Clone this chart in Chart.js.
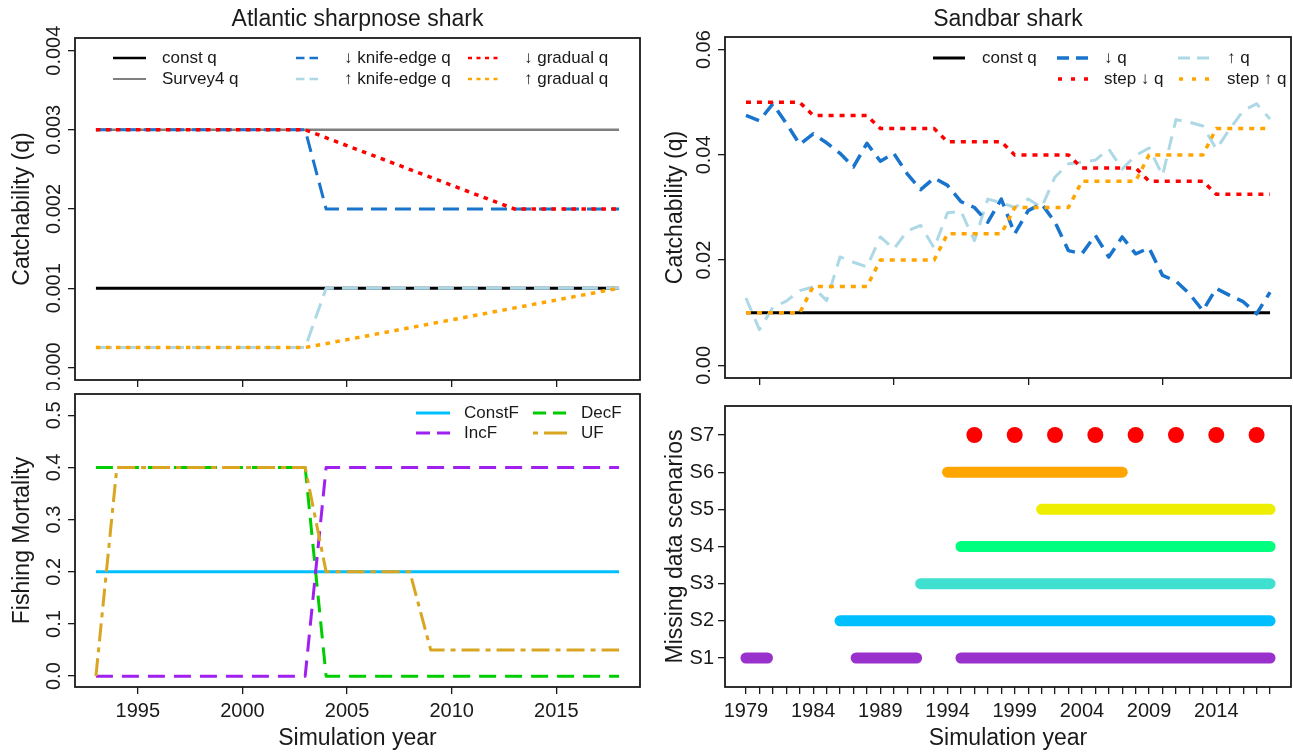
<!DOCTYPE html>
<html>
<head>
<meta charset="utf-8">
<title>Catchability and fishing mortality scenarios</title>
<script src="https://cdn.jsdelivr.net/npm/chart.js@4.4.1/dist/chart.umd.min.js"></script>
<style>
  html, body { margin: 0; padding: 0; background: #fff; }
  #wrap { position: relative; width: 1293px; height: 752px; overflow: hidden; }
  canvas { position: absolute; }
</style>
</head>
<body>
<div id="wrap">
  <canvas id="aspQ" width="646" height="390" style="left:0;top:0;width:646px;height:390px"></canvas>
  <canvas id="sbQ" width="647" height="390" style="left:646px;top:0;width:647px;height:390px"></canvas>
  <canvas id="aspF" width="646" height="362" style="left:0;top:390px;width:646px;height:362px"></canvas>
  <canvas id="sbMiss" width="647" height="362" style="left:646px;top:390px;width:647px;height:362px"></canvas>
</div>
<script>
// ======================= DATA =======================

// ---- Atlantic sharpnose shark : catchability (break points) ----
const aspYrConst = [1993, 2018];
const aspConstQ = [0.001, 0.001];
const aspSurvey4Q = [0.003, 0.003];
const aspYrKnife = [1993, 2003, 2004, 2018];
const aspKnifeDownQ = [0.003, 0.003, 0.002, 0.002];
const aspKnifeUpQ = [0.00025, 0.00025, 0.001, 0.001];
const aspYrGradDown = [1993, 2003, 2013, 2018];
const aspGradDownQ = [0.003, 0.003, 0.002, 0.002];
const aspYrGradUp = [1993, 2003, 2018];
const aspGradUpQ = [0.00025, 0.00025, 0.001];
const aspYearTicks = [1995, 2000, 2005, 2010, 2015];
const aspQTicks = [0, 0.001, 0.002, 0.003, 0.004];
const aspQLabels = ["0.000", "0.001", "0.002", "0.003", "0.004"];

// ---- Atlantic sharpnose shark : fishing mortality ----
const fYrConst = [1993, 2018];
const constF = [0.2, 0.2];
const fYrStep = [1993, 2003, 2004, 2018];
const decF = [0.4, 0.4, 0, 0];
const incF = [0, 0, 0.4, 0.4];
const fYrU = [1993, 1994, 2003, 2004, 2008, 2009, 2018];
const uF = [0, 0.4, 0.4, 0.2, 0.2, 0.05, 0.05];
const fTicks = [0, 0.1, 0.2, 0.3, 0.4, 0.5];
const fLabels = ["0.0", "0.1", "0.2", "0.3", "0.4", "0.5"];

// ---- Sandbar shark : catchability ----
const sbYears = [1979, 1980, 1981, 1982, 1983, 1984, 1985, 1986, 1987, 1988,
                 1989, 1990, 1991, 1992, 1993, 1994, 1995, 1996, 1997, 1998,
                 1999, 2000, 2001, 2002, 2003, 2004, 2005, 2006, 2007, 2008,
                 2009, 2010, 2011, 2012, 2013, 2014, 2015, 2016, 2017, 2018];
const sbDownQ = [0.0475, 0.0465, 0.0497, 0.0460, 0.0420, 0.0440, 0.0423, 0.0403, 0.0377, 0.0422,
                 0.0388, 0.0403, 0.0364, 0.0334, 0.0356, 0.0342, 0.0311, 0.0300, 0.0272, 0.0316,
                 0.0250, 0.0294, 0.0307, 0.0272, 0.0218, 0.0212, 0.0247, 0.0206, 0.0244, 0.0212,
                 0.0223, 0.0171, 0.0160, 0.0136, 0.0104, 0.0146, 0.0133, 0.0121, 0.0098, 0.0139];
const sbUpQ = [0.0128, 0.0068, 0.0110, 0.0122, 0.0142, 0.0149, 0.0123, 0.0206, 0.0196, 0.0187,
               0.0244, 0.0221, 0.0255, 0.0266, 0.0223, 0.0290, 0.0293, 0.0237, 0.0316, 0.0309,
               0.0300, 0.0316, 0.0300, 0.0358, 0.0383, 0.0386, 0.0390, 0.0411, 0.0373, 0.0399,
               0.0413, 0.0361, 0.0467, 0.0462, 0.0455, 0.0411, 0.0449, 0.0484, 0.0497, 0.0468];
const sbYrConst = [1979, 2018];
const sbConstQ = [0.01, 0.01];
const sbYrStep = [1979, 1983, 1984, 1988, 1989, 1993, 1994, 1998,
                  1999, 2003, 2004, 2008, 2009, 2013, 2014, 2018];
const sbStepDownQ = [0.05, 0.05, 0.0475, 0.0475, 0.045, 0.045, 0.0425, 0.0425,
                     0.04, 0.04, 0.0375, 0.0375, 0.035, 0.035, 0.0325, 0.0325];
const sbStepUpQ = [0.01, 0.01, 0.015, 0.015, 0.02, 0.02, 0.025, 0.025,
                   0.03, 0.03, 0.035, 0.035, 0.04, 0.04, 0.045, 0.045];
const sbDecadeTicks = [1980, 1990, 2000, 2010];
const sbQTicks = [0, 0.02, 0.04, 0.06];
const sbQLabels = ["0.00", "0.02", "0.04", "0.06"];

// ---- Sandbar shark : missing data scenarios (years with data) ----
const s1Spans = [[1979, 1980.6], [1987.2, 1991.7], [1995, 2018]];
const s2Spans = [[1986, 2018]];
const s3Spans = [[1992, 2018]];
const s4Spans = [[1995, 2018]];
const s5Spans = [[2001, 2018]];
const s6Spans = [[1994, 2007]];
const s7Years = [1996, 1999, 2002, 2005, 2008, 2011, 2014, 2017];
const scenarioRows = [1, 2, 3, 4, 5, 6, 7];
const sbYearLabels = [1979, 1984, 1989, 1994, 1999, 2004, 2009, 2014];

// ======================= STYLE =======================
const FONT = "'Liberation Sans', Arial, Helvetica, sans-serif";
const INK = "#1a1a1a";

const st = {
    constQ:   { color: "#000000", width: 3,   dash: [] },
    survey4:  { color: "#7f7f7f", width: 2.5, dash: [] },
    knifeDn:  { color: "#1874CD", width: 3,   dash: [16, 8] },
    knifeUp:  { color: "#ADD8E6", width: 3,   dash: [16, 8] },
    gradDn:   { color: "#FF0000", width: 3.5, dash: [4.5, 5.5] },
    gradUp:   { color: "#FFA500", width: 3.5, dash: [4.5, 5.5] },
    sbDn:     { color: "#1874CD", width: 3.5, dash: [14, 8] },
    sbUp:     { color: "#ADD8E6", width: 3,   dash: [14, 9] },
    stepDn:   { color: "#FF0000", width: 3.5, dash: [5, 6] },
    stepUp:   { color: "#FFA500", width: 3.5, dash: [5, 6] },
    constF:   { color: "#00BFFF", width: 3,   dash: [] },
    decF:     { color: "#00CD00", width: 3,   dash: [17, 9] },
    incF:     { color: "#A020F0", width: 3,   dash: [17, 9] },
    uF:       { color: "#DAA520", width: 3,   dash: [18, 6, 5, 6] }
};

// ======================= HELPERS =======================
function pts(xs, ys) {
    return xs.map((x, i) => ({ x: x, y: ys[i] }));
}

function spanPts(spans, row) {
    const out = [];
    spans.forEach((s, i) => {
        if (i > 0) out.push({ x: (spans[i - 1][1] + s[0]) / 2, y: null });
        out.push({ x: s[0], y: row }, { x: s[1], y: row });
    });
    return out;
}

// z: larger = drawn on top
function line(label, data, s, z) {
    return {
        label: label,
        data: data,
        borderColor: s.color,
        borderWidth: s.width,
        borderDash: s.dash,
        borderJoinStyle: "round",
        pointRadius: 0,
        tension: 0,
        fill: false,
        order: 20 - z
    };
}

function bar(data, color) {
    return {
        data: data,
        borderColor: color,
        borderWidth: 11,
        borderCapStyle: "round",
        pointRadius: 0,
        tension: 0,
        fill: false,
        spanGaps: false
    };
}

function xScale(min, max, ticks, bottomH, labelFn) {
    return {
        type: "linear",
        min: min,
        max: max,
        afterBuildTicks: s => { s.ticks = ticks.map(v => ({ value: v })); },
        afterFit: s => { s.height = bottomH; },
        border: { display: false },
        grid: { display: true, drawOnChartArea: false, drawTicks: true, tickLength: 7, color: INK, tickColor: INK, lineWidth: 1.3 },
        ticks: {
            display: !!labelFn,
            autoSkip: false,
            maxRotation: 0,
            minRotation: 0,
            padding: 5,
            color: INK,
            font: { family: FONT, size: 20 },
            callback: labelFn || (() => "")
        }
    };
}

function yScale(min, max, ticks, leftW, labelFn) {
    return {
        type: "linear",
        min: min,
        max: max,
        afterBuildTicks: s => { s.ticks = ticks.map(v => ({ value: v })); },
        afterFit: s => { s.width = leftW; },
        border: { display: false },
        grid: { display: true, drawOnChartArea: false, drawTicks: true, tickLength: 7, color: INK, tickColor: INK, lineWidth: 1.3 },
        ticks: {
            display: !!labelFn,
            autoSkip: false,
            padding: 4,
            color: INK,
            font: { family: FONT, size: 20 },
            callback: labelFn || (() => "")
        }
    };
}

// box, rotated tick labels, titles, legend
function decor(cfg) {
    return {
        id: "decor",
        afterDraw(chart) {
            const ctx = chart.ctx;
            const a = chart.chartArea;
            ctx.save();
            ctx.strokeStyle = INK;
            ctx.lineWidth = 1.8;
            ctx.setLineDash([]);
            ctx.strokeRect(a.left, a.top, a.right - a.left, a.bottom - a.top);

            ctx.fillStyle = INK;
            ctx.textBaseline = "middle";

            if (cfg.yVals) {
                ctx.font = "20px " + FONT;
                ctx.textAlign = "center";
                cfg.yVals.forEach((v, i) => {
                    const py = chart.scales.y.getPixelForValue(v);
                    ctx.save();
                    ctx.translate(a.left - 21, py);
                    ctx.rotate(-Math.PI / 2);
                    ctx.fillText(cfg.yText[i], 0, 0);
                    ctx.restore();
                });
            }

            ctx.font = "23px " + FONT;
            ctx.textAlign = "center";
            if (cfg.title) ctx.fillText(cfg.title, (a.left + a.right) / 2, 20);
            if (cfg.xTitle) ctx.fillText(cfg.xTitle, (a.left + a.right) / 2, cfg.xTitleY);
            if (cfg.yTitle) {
                ctx.save();
                ctx.translate(cfg.yTitleX, (a.top + a.bottom) / 2);
                ctx.rotate(-Math.PI / 2);
                ctx.fillText(cfg.yTitle, 0, 0);
                ctx.restore();
            }

            // legend: sample segments use their own (shorter) dash
            ctx.font = "17px " + FONT;
            ctx.textAlign = "left";
            (cfg.legend || []).forEach(it => {
                ctx.save();
                ctx.strokeStyle = it.s.color;
                ctx.lineWidth = it.lw || it.s.width;
                ctx.setLineDash(it.dash || it.s.dash);
                ctx.beginPath();
                ctx.moveTo(it.x0, it.y);
                ctx.lineTo(it.x1, it.y);
                ctx.stroke();
                ctx.restore();
                ctx.fillText(it.text, it.tx, it.y);
            });
            ctx.restore();
        }
    };
}

function baseOptions(padTop, padRight, scales) {
    return {
        responsive: false,
        animation: false,
        events: [],
        layout: { padding: { top: padTop, right: padRight, left: 0, bottom: 0 }, autoPadding: false },
        plugins: { legend: { display: false }, title: { display: false }, tooltip: { enabled: false } },
        scales: scales
    };
}

// ======================= TOP LEFT: ASP CATCHABILITY =======================
new Chart(document.getElementById("aspQ"), {
    type: "line",
    data: {
        datasets: [
            line("Survey4 q", pts(aspYrConst, aspSurvey4Q), st.survey4, 1),
            line("const q", pts(aspYrConst, aspConstQ), st.constQ, 2),
            line("↑ knife-edge q", pts(aspYrKnife, aspKnifeUpQ), st.knifeUp, 3),
            line("↓ knife-edge q", pts(aspYrKnife, aspKnifeDownQ), st.knifeDn, 4),
            line("↓ gradual q", pts(aspYrGradDown, aspGradDownQ), st.gradDn, 5),
            line("↑ gradual q", pts(aspYrGradUp, aspGradUpQ), st.gradUp, 6)
        ]
    },
    options: baseOptions(38, 6, {
        x: xScale(1992, 2019, aspYearTicks, 10, null),
        y: yScale(-0.00016, 0.00416, aspQTicks, 75, null)
    }),
    plugins: [decor({
        title: "Atlantic sharpnose shark",
        yTitle: "Catchability (q)", yTitleX: 23,
        yVals: aspQTicks, yText: aspQLabels,
        legend: [
            { text: "const q", s: st.constQ, lw: 2.5, x0: 113, x1: 146, tx: 162, y: 58 },
            { text: "Survey4 q", s: st.survey4, lw: 2, x0: 113, x1: 146, tx: 162, y: 79 },
            { text: "↓ knife-edge q", s: st.knifeDn, lw: 2.5, dash: [8.5, 5], x0: 296, x1: 318, tx: 344, y: 58 },
            { text: "↑ knife-edge q", s: st.knifeUp, lw: 2.5, dash: [8.5, 5], x0: 296, x1: 318, tx: 344, y: 79 },
            { text: "↓ gradual q", s: st.gradDn, lw: 2.5, dash: [4, 4.5], x0: 468, x1: 500, tx: 524, y: 58 },
            { text: "↑ gradual q", s: st.gradUp, lw: 2.5, dash: [4, 4.5], x0: 468, x1: 500, tx: 524, y: 79 }
        ]
    })]
});

// ======================= TOP RIGHT: SANDBAR CATCHABILITY =======================
new Chart(document.getElementById("sbQ"), {
    type: "line",
    data: {
        datasets: [
            line("const q", pts(sbYrConst, sbConstQ), st.constQ, 1),
            line("↑ q", pts(sbYears, sbUpQ), st.sbUp, 2),
            line("↓ q", pts(sbYears, sbDownQ), st.sbDn, 3),
            line("step ↓ q", pts(sbYrStep, sbStepDownQ), st.stepDn, 4),
            line("step ↑ q", pts(sbYrStep, sbStepUpQ), st.stepUp, 5)
        ]
    },
    options: baseOptions(37, 2, {
        x: xScale(1977.44, 2019.56, sbDecadeTicks, 12, null),
        y: yScale(-0.0024, 0.0624, sbQTicks, 79, null)
    }),
    plugins: [decor({
        title: "Sandbar shark",
        yTitle: "Catchability (q)", yTitleX: 30,
        yVals: sbQTicks, yText: sbQLabels,
        legend: [
            { text: "const q", s: st.constQ, x0: 287, x1: 319, tx: 336, y: 58 },
            { text: "↓ q", s: st.sbDn, dash: [12, 7], x0: 411, x1: 443, tx: 458, y: 58 },
            { text: "step ↓ q", s: st.stepDn, dash: [4, 9], x0: 412, x1: 442, tx: 458, y: 79 },
            { text: "↑ q", s: st.sbUp, dash: [12, 7], x0: 532, x1: 564, tx: 581, y: 58 },
            { text: "step ↑ q", s: st.stepUp, dash: [4, 9], x0: 533, x1: 564, tx: 581, y: 79 }
        ]
    })]
});

// ======================= BOTTOM LEFT: FISHING MORTALITY =======================
new Chart(document.getElementById("aspF"), {
    type: "line",
    data: {
        datasets: [
            line("ConstF", pts(fYrConst, constF), st.constF, 1),
            line("DecF", pts(fYrStep, decF), st.decF, 2),
            line("IncF", pts(fYrStep, incF), st.incF, 3),
            line("UF", pts(fYrU, uF), st.uF, 4)
        ]
    },
    options: baseOptions(4, 6, {
        x: xScale(1992, 2019, aspYearTicks, 65, v => String(v)),
        y: yScale(-0.0208, 0.5408, fTicks, 75, null)
    }),
    plugins: [decor({
        yTitle: "Fishing Mortality", yTitleX: 23,
        xTitle: "Simulation year", xTitleY: 349,
        yVals: fTicks, yText: fLabels,
        legend: [
            { text: "ConstF", s: st.constF, x0: 416, x1: 450, tx: 464, y: 23 },
            { text: "IncF", s: st.incF, dash: [14, 7], x0: 416, x1: 450, tx: 464, y: 43 },
            { text: "DecF", s: st.decF, dash: [13, 7], x0: 533, x1: 567, tx: 581, y: 23 },
            { text: "UF", s: st.uF, dash: [5, 6, 23, 6], x0: 533, x1: 567, tx: 581, y: 43 }
        ]
    })]
});

// ======================= BOTTOM RIGHT: MISSING DATA SCENARIOS =======================
new Chart(document.getElementById("sbMiss"), {
    type: "line",
    data: {
        datasets: [
            bar(spanPts(s1Spans, scenarioRows[0]), "#9932CC"),
            bar(spanPts(s2Spans, scenarioRows[1]), "#00BFFF"),
            bar(spanPts(s3Spans, scenarioRows[2]), "#40E0D0"),
            bar(spanPts(s4Spans, scenarioRows[3]), "#00FF7F"),
            bar(spanPts(s5Spans, scenarioRows[4]), "#EEEE00"),
            bar(spanPts(s6Spans, scenarioRows[5]), "#FFA500"),
            {
                data: s7Years.map(x => ({ x: x, y: scenarioRows[6] })),
                showLine: false,
                pointRadius: 8,
                pointBorderWidth: 0,
                pointBackgroundColor: "#FF0000",
                pointBorderColor: "#FF0000"
            }
        ]
    },
    options: baseOptions(3, 2, {
        x: xScale(1977.44, 2019.56, sbYears, 65, v => sbYearLabels.includes(v) ? String(v) : ""),
        y: yScale(0.22, 7.78, scenarioRows, 79, v => "S" + v)
    }),
    plugins: [decor({
        yTitle: "Missing data scenarios", yTitleX: 30,
        xTitle: "Simulation year", xTitleY: 349
    })]
});
</script>
</body>
</html>
